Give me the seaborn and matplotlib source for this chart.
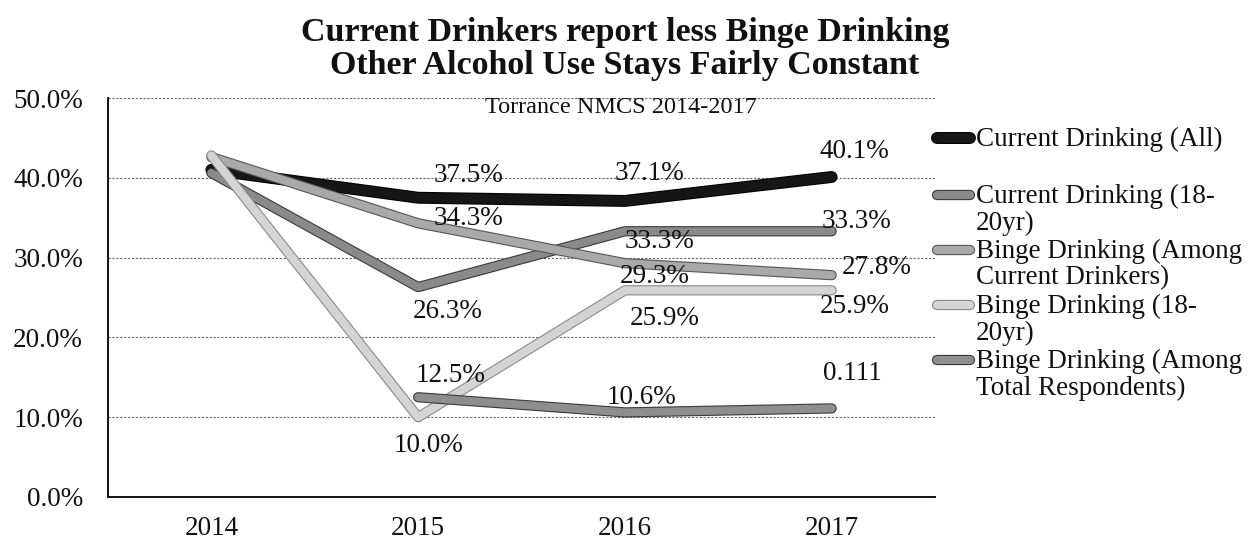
import numpy as np
import pandas as pd
import matplotlib
matplotlib.use("Agg")
import matplotlib.pyplot as plt
import matplotlib.patheffects as pe
from matplotlib.lines import Line2D
import seaborn as sns

# ---------------- data ----------------
years = ["2014", "2015", "2016", "2017"]
series_names = [
    "Current Drinking (All)",
    "Current Drinking (18-\n20yr)",
    "Binge Drinking (Among\nCurrent Drinkers)",
    "Binge Drinking (18-\n20yr)",
    "Binge Drinking (Among\nTotal Respondents)",
]
current_all = [41.0, 37.5, 37.1, 40.1]
current_18_20 = [40.6, 26.3, 33.3, 33.3]
binge_current = [42.6, 34.3, 29.3, 27.8]
binge_18_20 = [42.8, 10.0, 25.9, 25.9]
binge_total = [np.nan, 12.5, 10.6, 11.1]

# label texts as printed on the chart (2014 unlabeled)
labels_current_all = ["", "37.5%", "37.1%", "40.1%"]
labels_current_18_20 = ["", "26.3%", "33.3%", "33.3%"]
labels_binge_current = ["", "34.3%", "29.3%", "27.8%"]
labels_binge_18_20 = ["", "10.0%", "25.9%", "25.9%"]
labels_binge_total = ["", "12.5%", "10.6%", "0.111"]

title = "Current Drinkers report less Binge Drinking\nOther Alcohol Use Stays Fairly Constant"
subtitle = "Torrance NMCS 2014-2017"
yticks = [0, 10, 20, 30, 40, 50]
ytick_labels = ["0.0%", "10.0%", "20.0%", "30.0%", "40.0%", "50.0%"]

values = [current_all, current_18_20, binge_current, binge_18_20, binge_total]
labels = [labels_current_all, labels_current_18_20, labels_binge_current,
          labels_binge_18_20, labels_binge_total]

# ---------------- style ----------------
sns.set_style("white")
FONT = ["Liberation Serif", "DejaVu Serif"]
plt.rcParams["font.family"] = FONT

colors = ["#161616", "#8a8a8a", "#a9a9a9", "#d4d4d4", "#8e8e8e"]
edges = ["#000000", "#3a3a3a", "#555555", "#8a8a8a", "#3a3a3a"]
lws = [7.0, 5.8, 5.8, 5.8, 5.8]
FS = 19.5

# label offsets in pixels (dx, dy) for each series and year
offsets = [
    [(0, 0), (50, 22), (25, 27), (23, 26)],
    [(0, 0), (30, -24), (35, -10), (25, 10)],
    [(0, 0), (50, 5), (30, -13), (45, 8)],
    [(0, 0), (10, -28), (40, -28), (23, -16)],
    [(0, 0), (32, 22), (17, 15), (21, 35)],
]

fig = plt.figure(figsize=(12.56, 5.41), dpi=100)
ax = fig.add_axes([108 / 1256, 1 - 497 / 541, (935 - 108) / 1256, (497 - 98) / 541])

x = np.arange(len(years))
for i, (name, vals) in enumerate(zip(series_names, values)):
    df = pd.DataFrame({"x": x, "y": vals}).dropna()
    sns.lineplot(data=df, x="x", y="y", ax=ax, color=colors[i], linewidth=lws[i],
                 solid_capstyle="round", solid_joinstyle="round", zorder=3 + i,
                 legend=False)
    line = ax.lines[-1]
    line.set_path_effects([pe.Stroke(linewidth=lws[i] + 1.6, foreground=edges[i]),
                           pe.Normal()])

for i, vals in enumerate(values):
    for j, v in enumerate(vals):
        lab = labels[i][j]
        if not lab or np.isnan(v):
            continue
        dx, dy = offsets[i][j]
        ax.annotate(lab, (x[j], v), xytext=(dx, dy), textcoords="offset pixels",
                    ha="center", va="center", fontsize=FS, color="#111111",
                    zorder=20)

ax.set_xlim(-0.5, len(years) - 0.5)
ax.set_ylim(0, 50)
ax.set_xticks(x)
ax.set_xticklabels(years, fontsize=FS)
ax.set_xticks(np.arange(-0.5, len(years)), minor=True)
ax.tick_params(axis="x", which="major", length=0, pad=14)
ax.tick_params(axis="x", which="minor", length=6, width=1.2, direction="out", color="#111")
ax.set_yticks(yticks)
ax.set_yticklabels(ytick_labels, fontsize=FS)
ax.tick_params(axis="y", length=6, width=1.2, direction="out", color="#111", pad=12)
ax.set_xlabel("")
ax.set_ylabel("")
for s in ["top", "right"]:
    ax.spines[s].set_visible(False)
for s in ["left", "bottom"]:
    ax.spines[s].set_color("#111")
    ax.spines[s].set_linewidth(1.4)
ax.yaxis.grid(True, linestyle=(0, (2, 1.5)), color="#666666", linewidth=0.8)
ax.set_axisbelow(True)
for t in ax.get_xticklabels() + ax.get_yticklabels():
    t.set_color("#111111")

# title and subtitle
fig.text(625 / 1256, 1 - 49 / 541, title, ha="center", va="center", fontsize=24.5,
         fontweight="bold", linespacing=1.05, color="#111111")
ax.text(0.62, 0.975, subtitle, transform=ax.transAxes, ha="center", va="center",
        fontsize=17.5, color="#111111")

# legend (handles aligned with first text line)
leg_y = [138, 195, 250, 305, 360]
for i, name in enumerate(series_names):
    yf = 1 - leg_y[i] / 541
    fig.add_artist(Line2D([937 / 1256, 970 / 1256], [yf, yf], color=colors[i],
                          linewidth=lws[i], solid_capstyle="round",
                          path_effects=[pe.Stroke(linewidth=lws[i] + 1.6, foreground=edges[i]),
                                        pe.Normal()]))
    for k, part in enumerate(name.split("\n")):
        fig.text(976 / 1256, 1 - (leg_y[i] + 1 + k * 27) / 541, part, ha="left",
                 va="center", fontsize=FS, color="#111111")

fig.savefig("out.png", dpi=100)
